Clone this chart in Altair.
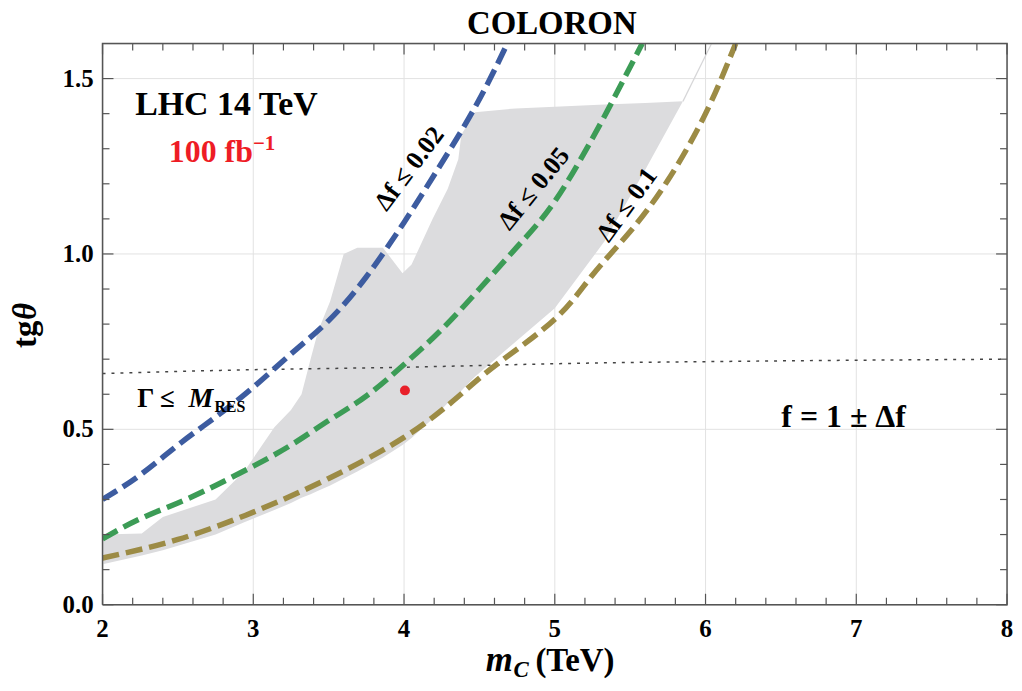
import altair as alt
import pandas as pd

# ---------------- data ----------------
blue_x = [2.0, 2.25, 2.5, 2.75, 3.0, 3.25, 3.5, 3.75, 4.0, 4.2, 4.4, 4.56, 4.685]
blue_y = [0.30, 0.37, 0.455, 0.535, 0.62, 0.715, 0.81, 0.935, 1.09, 1.225, 1.365, 1.49, 1.6]

green_x = [2.0, 2.25, 2.5, 2.75, 3.0, 3.25, 3.5, 3.75, 4.0, 4.25, 4.5, 4.75, 5.0, 5.25, 5.4, 5.58]
green_y = [0.188, 0.245, 0.29, 0.34, 0.395, 0.455, 0.525, 0.595, 0.685, 0.785, 0.90, 1.02, 1.15, 1.33, 1.45, 1.6]

olive_x = [2.0, 2.5, 3.0, 3.5, 4.0, 4.35, 4.62, 5.0, 5.25, 5.5, 5.75, 6.0, 6.2]
olive_y = [0.133, 0.186, 0.264, 0.36, 0.477, 0.59, 0.687, 0.814, 0.94, 1.064, 1.21, 1.40, 1.6]

width_x = [2.0, 3.0, 4.0, 5.0, 6.0, 7.0, 8.0]
width_y = [0.659, 0.67, 0.677, 0.687, 0.693, 0.697, 0.70]

region_x = [2.0, 2.26, 2.4, 2.75, 2.94, 3.14, 3.25, 3.32, 3.38, 3.43, 3.51, 3.60, 3.69,
            3.86, 3.99, 4.05, 4.19, 4.29, 4.36, 4.38, 4.47, 4.74, 5.0, 5.33, 5.6, 5.85]
region_lo = [0.115, 0.14, 0.155, 0.20, 0.235, 0.27, 0.29, 0.305, 0.315, 0.325, 0.34, 0.36, 0.38,
             0.42, 0.455, 0.475, 0.53, 0.575, 0.60, 0.61, 0.65, 0.75, 0.845, 1.036, 1.24, 1.435]
region_hi = [0.20, 0.203, 0.25, 0.30, 0.38, 0.506, 0.555, 0.60, 0.70, 0.78, 0.865, 1.0, 1.018,
             1.018, 0.945, 0.97, 1.10, 1.186, 1.27, 1.34, 1.404, 1.415, 1.42, 1.426, 1.43, 1.435]

sliver_x = [5.85, 6.04]
sliver_y = [1.435, 1.6]

point_x = [4.006]
point_y = [0.611]

x_major = [2, 3, 4, 5, 6, 7, 8]
x_major_labels = ["2", "3", "4", "5", "6", "7", "8"]
x_minor = [2.2, 2.4, 2.6, 2.8, 3.2, 3.4, 3.6, 3.8, 4.2, 4.4, 4.6, 4.8,
           5.2, 5.4, 5.6, 5.8, 6.2, 6.4, 6.6, 6.8, 7.2, 7.4, 7.6, 7.8]
y_major = [0.0, 0.5, 1.0, 1.5]
y_major_labels = ["0.0", "0.5", "1.0", "1.5"]
y_minor = [0.1, 0.2, 0.3, 0.4, 0.6, 0.7, 0.8, 0.9, 1.1, 1.2, 1.3, 1.4]

curve_labels = ["Δf ≤ 0.02", "Δf ≤ 0.05", "Δf ≤ 0.1"]
curve_label_x = [4.035, 4.862, 5.479]
curve_label_y = [1.243, 1.186, 1.14]
curve_label_angle = [307, 309, 306]

# ---------------- layout ----------------
W, H = 909, 564
X0, X1, Y0, Y1 = 2.0, 8.0, 0.0, 1.6
FONT = "Liberation Serif"
BLUE, GREEN, OLIVE = "#3d5ca0", "#3c9c56", "#9c8b45"
FRAME = "#555555"
GRID = "#e2e2e2"
MAJ_PX, MIN_PX = 11, 7

xs = alt.Scale(domain=[X0, X1], nice=False, zero=False)
ys = alt.Scale(domain=[Y0, Y1], nice=False, zero=False)


def X(field):
    return alt.X(field, type="quantitative", scale=xs, axis=None)


def Y(field):
    return alt.Y(field, type="quantitative", scale=ys, axis=None)


# grid lines at the major ticks
xgrid = alt.Chart(pd.DataFrame({"gx": x_major})).mark_rule(color=GRID, strokeWidth=1).encode(
    x=X("gx"), y=alt.value(0), y2=alt.value(H))
ygrid = alt.Chart(pd.DataFrame({"gy": y_major})).mark_rule(color=GRID, strokeWidth=1).encode(
    y=Y("gy"), x=alt.value(0), x2=alt.value(W))

region = pd.DataFrame({"x": region_x, "lo": region_lo, "hi": region_hi})
area = alt.Chart(region).mark_area(color="#dcdcde", opacity=1).encode(
    x=X("x"), y=Y("lo"), y2="hi:Q")

sliver = alt.Chart(pd.DataFrame({"x": sliver_x, "y": sliver_y})).mark_line(
    color="#d6d6d8", strokeWidth=1.2).encode(x=X("x"), y=Y("y"))


def curve(xv, yv, color):
    return alt.Chart(pd.DataFrame({"x": xv, "y": yv})).mark_line(
        color=color, strokeWidth=5.5, strokeDash=[17, 7], interpolate="natural", clip=True
    ).encode(x=X("x"), y=Y("y"))


blue = curve(blue_x, blue_y, BLUE)
green = curve(green_x, green_y, GREEN)
olive = curve(olive_x, olive_y, OLIVE)

dotted = alt.Chart(pd.DataFrame({"x": width_x, "y": width_y})).mark_line(
    color="#444444", strokeWidth=1.5, strokeDash=[3, 6], interpolate="natural"
).encode(x=X("x"), y=Y("y"))

point = alt.Chart(pd.DataFrame({"x": point_x, "y": point_y})).mark_circle(
    color="#e8202a", size=100, opacity=1).encode(x=X("x"), y=Y("y"))

# frame: a closed path through the four corners of the plot domain
frame_df = pd.DataFrame({"i": [0, 1, 2, 3, 4],
                         "x": [X0, X1, X1, X0, X0],
                         "y": [Y0, Y0, Y1, Y1, Y0]})
frame = alt.Chart(frame_df).mark_line(color=FRAME, strokeWidth=1.5).encode(
    x=X("x"), y=Y("y"), order="i:Q")

# inward tick marks as short segments starting on each frame edge
dy_maj, dy_min = MAJ_PX * (Y1 - Y0) / H, MIN_PX * (Y1 - Y0) / H
dx_maj, dx_min = MAJ_PX * (X1 - X0) / W, MIN_PX * (X1 - X0) / W
rows = []
k = 0
for vals, dy in ((x_major, dy_maj), (x_minor, dy_min)):
    for v in vals:
        rows += [(k, 0, v, Y0), (k, 1, v, Y0 + dy)]
        k += 1
        rows += [(k, 0, v, Y1), (k, 1, v, Y1 - dy)]
        k += 1
for vals, dx in ((y_major, dx_maj), (y_minor, dx_min)):
    for v in vals:
        rows += [(k, 0, X0, v), (k, 1, X0 + dx, v)]
        k += 1
        rows += [(k, 0, X1, v), (k, 1, X1 - dx, v)]
        k += 1
tick_df = pd.DataFrame(rows, columns=["id", "i", "x", "y"])
ticks = alt.Chart(tick_df).mark_line(color=FRAME, strokeWidth=1.2).encode(
    x=X("x"), y=Y("y"), detail="id:N", order="i:Q")

# tick labels
xlab = alt.Chart(pd.DataFrame({"lx": x_major, "t": x_major_labels})).mark_text(
    font=FONT, fontWeight="bold", fontSize=25, color="black", align="center", baseline="top"
).encode(x=X("lx"), y=alt.value(H + 12), text="t:N")
ylab = alt.Chart(pd.DataFrame({"ly": y_major, "t": y_major_labels})).mark_text(
    font=FONT, fontWeight="bold", fontSize=25, color="black", align="right", baseline="middle"
).encode(y=Y("ly"), x=alt.value(-9), text="t:N")

labels_df = pd.DataFrame({"t": curve_labels, "x": curve_label_x, "y": curve_label_y,
                          "a": curve_label_angle})
clabels = alt.Chart(labels_df).mark_text(font=FONT, fontWeight="bold", fontSize=26,
                                         color="black", align="center", baseline="middle").encode(
    x=X("x"), y=Y("y"), text="t:N", angle=alt.Angle("a:Q", scale=None))


def note(text, x, y, size, color="black", style="normal", weight="bold"):
    return alt.Chart(pd.DataFrame({"t": [text], "x": [x], "y": [y]})).mark_text(
        font=FONT, fontWeight=weight, fontStyle=style, fontSize=size, color=color,
        align="left", baseline="alphabetic").encode(x=X("x"), y=Y("y"), text="t:N")


notes = [
    note("LHC 14 TeV", 2.217, 1.395, 34),
    note("100 fb", 2.44, 1.263, 32, color="#ee1c25"),
    note("−1", 2.998, 1.297, 21, color="#ee1c25"),
    note("Γ ≤", 2.23, 0.563, 27),
    note("M", 2.571, 0.563, 28, style="italic"),
    note("RES", 2.742, 0.549, 16),
    note("f = 1 ± Δf", 6.503, 0.507, 32),
]


def pix_text(text, px, py, size, style="normal", align="left", angle=0):
    return alt.Chart(pd.DataFrame({"t": [text]})).mark_text(
        font=FONT, fontWeight="bold", fontStyle=style, fontSize=size, color="black",
        align=align, baseline="alphabetic", angle=angle).encode(
        x=alt.value(px), y=alt.value(py), text="t:N")


titles = [
    pix_text("COLORON", W / 2 - 3, -10, 33, align="center"),
    pix_text("m", 385, 631, 35, style="italic"),
    pix_text("C", 413, 637, 23, style="italic"),
    pix_text("(TeV)", 435, 631, 33),
    pix_text("tg", -67, 306, 33, angle=270),
    pix_text("θ", -67, 278, 33, style="italic", angle=270),
]

chart = alt.layer(xgrid, ygrid, area, sliver, dotted, green, olive, blue, point,
                  frame, ticks, xlab, ylab, clabels, *notes, *titles).properties(
    width=W, height=H,
    autosize=alt.AutoSizeParams(type="none"),
    padding={"left": 95, "top": 34, "right": 7, "bottom": 75},
).configure_view(strokeWidth=0).configure(background="white")

chart.save("out.html", embed_options={"renderer": "svg", "actions": False})
